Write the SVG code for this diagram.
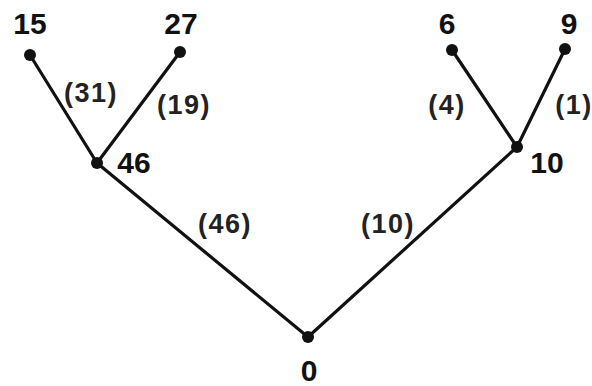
<svg xmlns="http://www.w3.org/2000/svg" width="592" height="386" viewBox="0 0 592 386">
<style>
.e{stroke:#111;stroke-width:3.2;fill:none;stroke-linecap:round}
.d{fill:#111}
.n{font-family:"Liberation Sans",Arial,sans-serif;font-weight:bold;font-size:30px;fill:#111}
.w{font-family:"Liberation Sans",Arial,sans-serif;font-weight:bold;font-size:27px;letter-spacing:1.5px;fill:#222}
</style>
<rect width="592" height="386" fill="#fff"/>
<g id="connectors">
<line class="e" x1="30" y1="55" x2="97" y2="163"/>
<line class="e" x1="180" y1="52" x2="97" y2="163"/>
<line class="e" x1="97" y1="163" x2="308" y2="337"/>
<line class="e" x1="452" y1="50" x2="517" y2="147"/>
<line class="e" x1="565" y1="49" x2="517" y2="147"/>
<line class="e" x1="517" y1="147" x2="308" y2="337"/>
<text class="w" x="91" y="102" text-anchor="middle">(31)</text>
<text class="w" x="184" y="114" text-anchor="middle">(19)</text>
<text class="w" x="225" y="233" text-anchor="middle">(46)</text>
<text class="w" x="388" y="233" text-anchor="middle">(10)</text>
<text class="w" x="447" y="114" text-anchor="middle">(4)</text>
<text class="w" x="574" y="114" text-anchor="middle">(1)</text>
</g>
<g id="n15"><circle class="d" cx="30" cy="55" r="6"/><text class="n" x="30" y="34" text-anchor="middle">15</text></g>
<g id="n27"><circle class="d" cx="180" cy="52" r="6"/><text class="n" x="181" y="34" text-anchor="middle">27</text></g>
<g id="n46"><circle class="d" cx="97" cy="163" r="6"/><text class="n" x="134" y="173" text-anchor="middle">46</text></g>
<g id="n6"><circle class="d" cx="452" cy="50" r="6"/><text class="n" x="447" y="34" text-anchor="middle">6</text></g>
<g id="n9"><circle class="d" cx="565" cy="49" r="6"/><text class="n" x="569" y="34" text-anchor="middle">9</text></g>
<g id="n10"><circle class="d" cx="517" cy="147" r="6"/><text class="n" x="547" y="173" text-anchor="middle">10</text></g>
<g id="n0"><circle class="d" cx="308" cy="337" r="6"/><text class="n" x="309" y="381" text-anchor="middle">0</text></g>
</svg>
